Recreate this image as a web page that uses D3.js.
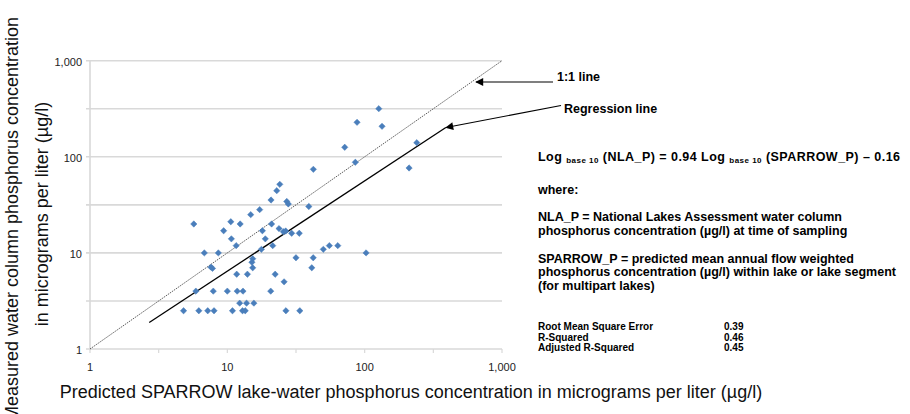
<!DOCTYPE html>
<html>
<head>
<meta charset="utf-8">
<script src="https://cdn.jsdelivr.net/npm/d3@7"></script>
<style>
  html, body { margin: 0; padding: 0; background: #fff; }
  svg { display: block; font-family: "Liberation Sans", Arial, sans-serif; }
  .tick-label { font-size: 11px; fill: #222; }
  .axis-title { font-size: 18px; fill: #111; }
  .note { font-size: 12.5px; font-weight: bold; fill: #000; }
  .stat { font-size: 10px; font-weight: bold; fill: #000; }
</style>
</head>
<body>
<svg id="chart" width="910" height="414"></svg>
<script>
// predicted SPARROW P (x) and measured NLA P (y), µg/l
const sparrowP = [126.7, 88.0, 133.8, 71.6, 239.6, 85.5, 42.3, 210.6, 24.1, 22.9,
  20.8, 27.1, 27.8, 39.2, 17.2, 14.8, 5.7, 10.6, 12.4, 9.4,
  18.0, 21.0, 23.8, 25.6, 26.6, 29.4, 33.4, 10.7, 18.9, 11.6,
  21.4, 17.7, 6.8, 8.6, 15.3, 15.1, 15.3, 31.6, 42.2, 41.2,
  50.0, 55.3, 63.7, 102.4, 7.6, 7.8, 11.7, 14.0, 22.3, 25.9,
  5.9, 7.9, 10.0, 11.8, 13.0, 20.7, 12.3, 13.8, 15.6, 4.8,
  6.2, 7.2, 8.0, 10.9, 12.9, 13.5, 26.7, 33.7];
const nlaP = [316.6, 228.6, 207.7, 125.6, 140.2, 87.7, 74.1, 76.5, 51.7, 44.4,
  35.5, 34.3, 32.3, 30.4, 28.2, 25.0, 20.0, 21.1, 20.0, 17.0,
  17.0, 20.0, 17.9, 16.6, 16.9, 16.0, 16.0, 14.0, 14.0, 11.9,
  11.9, 10.9, 10.0, 10.0, 8.7, 8.0, 7.0, 8.9, 8.9, 7.0,
  10.9, 11.9, 11.9, 10.0, 7.1, 6.9, 6.0, 6.0, 6.0, 5.0,
  4.0, 4.0, 4.0, 4.0, 4.0, 4.0, 3.0, 3.0, 3.0, 2.5,
  2.5, 2.5, 2.5, 2.5, 2.5, 2.5, 2.5, 2.5];

const tickValues = [1, 10, 100, 1000];
const gridValues = [1, 3.162, 10, 31.62, 100, 316.2, 1000];
const oneToOne = [1, 1000];
const regressionX = [2.7, 390];
const regressionSlope = 0.94;
const regressionIntercept = -0.13;

const equationLines = [
  "where:",
  "",
  "NLA_P = National Lakes Assessment water column",
  "phosphorus concentration (µg/l) at time of sampling",
  "",
  "SPARROW_P = predicted mean annual flow weighted",
  "phosphorus concentration (µg/l) within lake or lake segment",
  "(for multipart lakes)"
];
const statNames = ["Root Mean Square Error", "R-Squared", "Adjusted R-Squared"];
const statValues = ["0.39", "0.46", "0.45"];

const svg = d3.select("#chart");
const fmt = d3.format(",");

const plot = { left: 90, right: 502, top: 60.7, bottom: 349 };
const x = d3.scaleLog().domain([1, 1000]).range([plot.left, plot.right]);
const y = d3.scaleLog().domain([1, 1000]).range([plot.bottom, plot.top]);

// grid
svg.append("g").selectAll("line")
  .data(gridValues)
  .join("line")
  .attr("x1", plot.left - 4).attr("x2", plot.right)
  .attr("y1", d => y(d)).attr("y2", d => y(d))
  .attr("stroke", "#d9d9d9").attr("stroke-width", 1.6);

svg.append("line")
  .attr("x1", plot.left).attr("x2", plot.left)
  .attr("y1", plot.top).attr("y2", plot.bottom)
  .attr("stroke", "#d9d9d9").attr("stroke-width", 1.6);

svg.append("g").selectAll("line")
  .data(gridValues)
  .join("line")
  .attr("x1", d => x(d)).attr("x2", d => x(d))
  .attr("y1", plot.bottom).attr("y2", plot.bottom + 4)
  .attr("stroke", "#d9d9d9").attr("stroke-width", 1.2);

// tick labels
svg.append("g").selectAll("text")
  .data(tickValues)
  .join("text")
  .attr("class", "tick-label")
  .attr("x", plot.left - 8)
  .attr("y", d => y(d) + 5)
  .attr("text-anchor", "end")
  .text(fmt);

svg.append("g").selectAll("text")
  .data(tickValues)
  .join("text")
  .attr("class", "tick-label")
  .attr("x", d => x(d))
  .attr("y", plot.bottom + 22)
  .attr("text-anchor", "middle")
  .text(fmt);

// axis titles
svg.append("text")
  .attr("class", "axis-title")
  .attr("x", 411).attr("y", 398)
  .attr("text-anchor", "middle")
  .text("Predicted SPARROW lake-water phosphorus concentration in micrograms per liter (µg/l)");

svg.append("text")
  .attr("class", "axis-title")
  .attr("transform", "translate(18,219) rotate(-90)")
  .attr("text-anchor", "middle")
  .text("Measured water column phosphorus concentration");

svg.append("text")
  .attr("class", "axis-title")
  .attr("transform", "translate(48,214) rotate(-90)")
  .attr("text-anchor", "middle")
  .text("in micrograms per liter (µg/l)");

// 1:1 line
svg.append("line")
  .attr("x1", x(oneToOne[0])).attr("y1", y(oneToOne[0]))
  .attr("x2", x(oneToOne[1])).attr("y2", y(oneToOne[1]))
  .attr("stroke", "#333").attr("stroke-width", 0.8)
  .attr("stroke-dasharray", "1.5,1");

// regression line
const regY = v => Math.pow(10, regressionSlope * Math.log10(v) + regressionIntercept);
svg.append("line")
  .attr("x1", x(regressionX[0])).attr("y1", y(regY(regressionX[0])))
  .attr("x2", x(regressionX[1])).attr("y2", y(regY(regressionX[1])))
  .attr("stroke", "#000").attr("stroke-width", 1.3);

// points
const diamond = d3.symbol().type(d3.symbolSquare).size(20);
svg.append("g").selectAll("path")
  .data(d3.range(sparrowP.length))
  .join("path")
  .attr("d", diamond)
  .attr("transform", i => `translate(${x(sparrowP[i])},${y(nlaP[i])}) rotate(45)`)
  .attr("fill", "#4a7ebb")
  .attr("stroke", "#4a7ebb").attr("stroke-width", 0.8).attr("stroke-opacity", 0.6);

// annotations
svg.append("defs").append("marker")
  .attr("id", "arrow")
  .attr("viewBox", "0 0 10 10")
  .attr("refX", 9).attr("refY", 5)
  .attr("markerWidth", 11).attr("markerHeight", 8)
  .attr("markerUnits", "userSpaceOnUse")
  .attr("orient", "auto")
  .append("path").attr("d", "M0,0 L10,5 L0,10 Z").attr("fill", "#000");

svg.append("line")
  .attr("x1", 553).attr("y1", 82).attr("x2", 476).attr("y2", 82)
  .attr("stroke", "#000").attr("stroke-width", 1.2)
  .attr("marker-end", "url(#arrow)");
svg.append("line")
  .attr("x1", 561).attr("y1", 105.5).attr("x2", 446).attr("y2", 127.5)
  .attr("stroke", "#000").attr("stroke-width", 1.2)
  .attr("marker-end", "url(#arrow)");

svg.append("text").attr("class", "note").attr("x", 557).attr("y", 81).text("1:1 line");
svg.append("text").attr("class", "note").attr("x", 564).attr("y", 113).text("Regression line");

const eq = svg.append("text").attr("class", "note")
  .attr("x", 538).attr("y", 161)
  .attr("textLength", 362).attr("lengthAdjust", "spacing");
eq.append("tspan").text("Log ");
eq.append("tspan").attr("font-size", 8).attr("dy", 2).text("base 10");
eq.append("tspan").attr("dy", -2).text(" (NLA_P) = 0.94 Log ");
eq.append("tspan").attr("font-size", 8).attr("dy", 2).text("base 10");
eq.append("tspan").attr("dy", -2).text(" (SPARROW_P) – 0.16");

svg.append("g").selectAll("text")
  .data(equationLines)
  .join("text")
  .attr("class", "note")
  .attr("x", 538)
  .attr("y", (d, i) => 194 + i * 13.7)
  .text(d => d);

svg.append("g").selectAll("text")
  .data(statNames)
  .join("text")
  .attr("class", "stat")
  .attr("x", 538)
  .attr("y", (d, i) => 330 + i * 10.5)
  .text(d => d);

svg.append("g").selectAll("text")
  .data(statValues)
  .join("text")
  .attr("class", "stat")
  .attr("x", 724)
  .attr("y", (d, i) => 330 + i * 10.5)
  .text(d => d);
</script>
</body>
</html>
